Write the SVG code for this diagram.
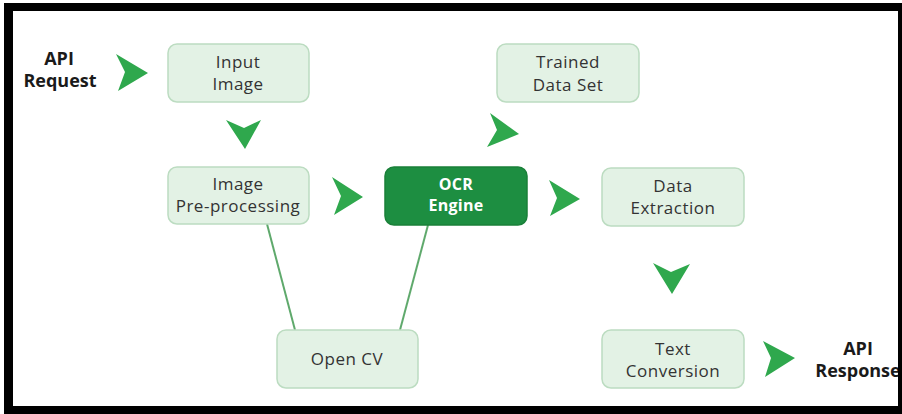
<svg xmlns="http://www.w3.org/2000/svg" width="902" height="414" viewBox="0 0 902 414">
  <style>
    .node rect { fill: #e3f2e5; stroke: #bcdcc1; stroke-width: 1.5; }
    .node text { font-family: "Open Sans", "Noto Sans", sans-serif; font-size: 17px; fill: #333; text-anchor: middle; letter-spacing: 0.5px; }
    #ocr-engine rect { fill: #1d8e41; stroke: #1a8039; }
    #ocr-engine text { fill: #ffffff; font-weight: bold; font-size: 16px; letter-spacing: 0.3px; }
    .label { font-family: "Open Sans", "Noto Sans", sans-serif; font-size: 18px; font-weight: bold; fill: #1a1a1a; text-anchor: middle; }
    .arrow { fill: #2fa84d; }
    .link { stroke: #5fa96c; stroke-width: 2; fill: none; }
  </style>

  <!-- white page -->
  <rect x="0" y="0" width="902" height="414" fill="#ffffff"/>

  <!-- connectors -->
  <g id="connectors">
    <line class="link" x1="267" y1="224" x2="295" y2="330"/>
    <line class="link" x1="428" y1="225" x2="400" y2="330"/>
    <polygon class="arrow" points="116,54 148,73 118,91 125,72"/>
    <polygon class="arrow" points="226,120 244,128 261,120 245,149"/>
    <polygon class="arrow" points="332,177 363,197 334,215 341,196"/>
    <polygon class="arrow" points="490,113 519,134 487,147 497,130"/>
    <polygon class="arrow" points="549,180 580,199 550,216 557,198"/>
    <polygon class="arrow" points="653,263 671,272 690,264 672,294"/>
    <polygon class="arrow" points="763,341 795,358 765,377 771,358"/>
  </g>

  <!-- nodes -->
  <g id="input-image" class="node">
    <rect x="168" y="44" width="141" height="58" rx="9"/>
    <text x="238" y="68">Input</text>
    <text x="238" y="90">Image</text>
  </g>
  <g id="pre-processing" class="node">
    <rect x="168" y="167" width="141" height="57" rx="9"/>
    <text x="238" y="190">Image</text>
    <text x="238" y="212">Pre-processing</text>
  </g>
  <g id="ocr-engine" class="node">
    <rect x="385" y="167" width="142" height="58" rx="9"/>
    <text x="456" y="190">OCR</text>
    <text x="456" y="211">Engine</text>
  </g>
  <g id="trained-data-set" class="node">
    <rect x="497" y="44" width="142" height="58" rx="9"/>
    <text x="568" y="68">Trained</text>
    <text x="568" y="91">Data Set</text>
  </g>
  <g id="data-extraction" class="node">
    <rect x="602" y="168" width="142" height="58" rx="9"/>
    <text x="673" y="192">Data</text>
    <text x="673" y="214">Extraction</text>
  </g>
  <g id="open-cv" class="node">
    <rect x="277" y="330" width="141" height="58" rx="9"/>
    <text x="347" y="365">Open CV</text>
  </g>
  <g id="text-conversion" class="node">
    <rect x="602" y="330" width="142" height="58" rx="9"/>
    <text x="673" y="355">Text</text>
    <text x="673" y="377">Conversion</text>
  </g>

  <!-- endpoints -->
  <g id="api-request">
    <text class="label" x="59" y="65">API</text>
    <text class="label" x="60" y="87">Request</text>
  </g>
  <g id="api-response">
    <text class="label" x="858" y="355">API</text>
    <text class="label" x="858" y="377">Response</text>
  </g>

  <!-- black frame -->
  <path fill="#000" fill-rule="evenodd" d="M4,3 H902 V414 H4 Z M13,11 V406 H898 V11 Z"/>
</svg>
